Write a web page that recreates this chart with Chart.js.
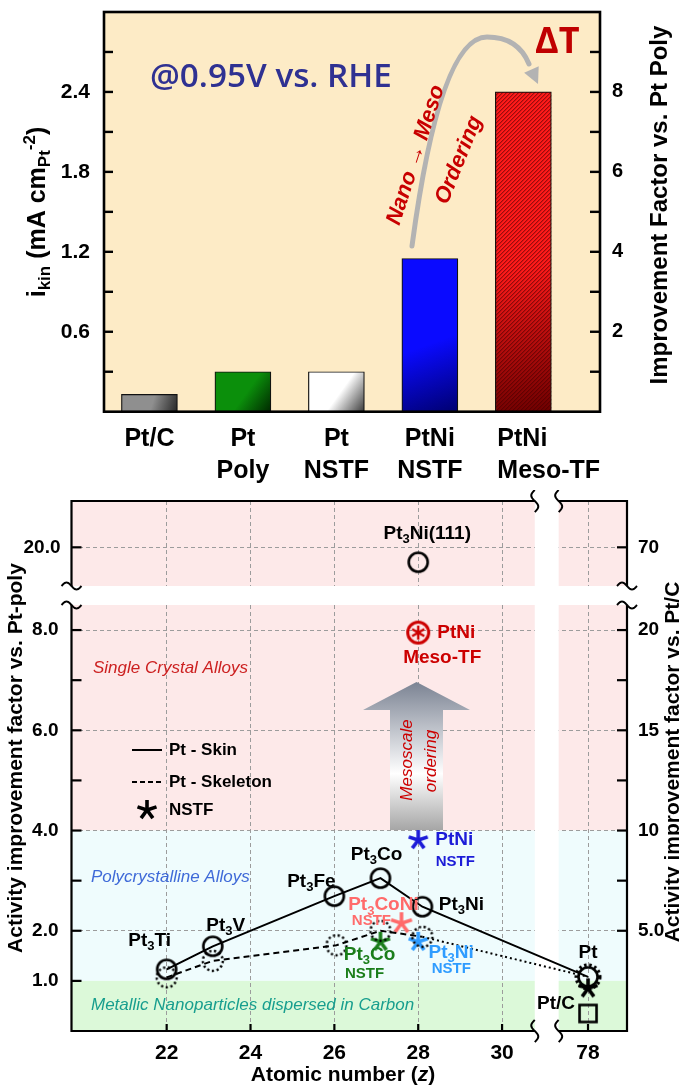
<!DOCTYPE html>
<html lang="en">
<head>
    <meta charset="UTF-8">
    <meta name="viewport" content="width=device-width, initial-scale=1.0">
    <title>ORR activity: Pt alloys and mesostructured PtNi thin films</title>
    <script src="https://cdn.jsdelivr.net/npm/chart.js"></script>
    <style>
        body {
            margin: 0;
            background: #ffffff;
        }

        .page {
            position: relative;
            width: 679px;
            height: 1085px;
            overflow: hidden;
        }

        canvas {
            position: absolute;
            left: 0;
        }

        #barChart { top: 0; }
        #aifChart { top: 490px; }
        #topPanel { top: 490px; z-index: 2; }
    </style>
</head>
<body>
<div class="page">
    <canvas id="barChart" width="679" height="490"></canvas>
    <canvas id="aifChart" width="679" height="595"></canvas>
    <canvas id="topPanel" width="679" height="107"></canvas>
</div>

<script>
    // ---- top panel: specific activity at 0.95 V vs RHE ----
    const catalysts = [['Pt/C'], ['Pt', 'Poly'], ['Pt', 'NSTF'], ['PtNi', 'NSTF'], ['PtNi', 'Meso-TF']];
    const ikin = [0.13, 0.30, 0.30, 1.15, 2.40];              // mA cm_Pt^-2
    const ikinTicks = [0.3, 0.6, 0.9, 1.2, 1.5, 1.8, 2.1, 2.4, 2.7];
    const ikinLabels = [0.6, 1.2, 1.8, 2.4];
    const factorTicks = [1, 2, 3, 4, 5, 6, 7, 8, 9];
    const factorLabels = [2, 4, 6, 8];
    const PT_POLY = 0.3;                                       // i_kin of Pt poly (factor 1)

    // ---- bottom panel: activity improvement factor vs atomic number ----
    const skinNames = ['Pt3Ti', 'Pt3V', 'Pt3Fe', 'Pt3Co', 'Pt3Ni', 'Pt'];
    const skinZ = [22, 23.1, 26, 27.1, 28.1, 78];
    const skinAIF = [1.23, 1.69, 2.69, 3.05, 2.48, 1.08];
    const skelZ = [22, 23.1, 26.05, 27.1, 28.1, 78];
    const skelAIF = [1.07, 1.40, 1.71, 2.00, 1.88, 1.08];
    const nstfNames = ['PtNi', 'Pt3CoNi', 'Pt3Co', 'Pt3Ni', 'Pt'];
    const nstfZ = [28, 27.6, 27.1, 28, 78];
    const nstfAIF = [3.81, 2.15, 1.78, 1.78, 0.85];
    const ptcZ = [78];
    const ptcAIF = [0.35];
    const mesoZ = [28];
    const mesoAIF = [7.95];
    const singleZ = [28];
    const singleAIF = [19.7];
    const zTicks = [22, 24, 26, 28, 30, 78];
    const aifTicks = [1, 2, 3, 4, 5, 6, 7, 8];
    const aifLabels = [1, 2, 4, 6, 8];
    const ptcTicks = [5, 7.5, 10, 12.5, 15, 17.5, 20];
    const ptcLabels = [5, 10, 15, 20];

    // broken z axis: everything past the break sits at one slot
    const Z_BREAK_POS = 32.05;
    const Z_GAP = [30.78, 31.35];
    const zPos = z => (z > 40 ? Z_BREAK_POS : z);

    const FONT = '"Liberation Sans", Arial, Helvetica, sans-serif';
    Chart.defaults.font.family = FONT;
    Chart.defaults.font.weight = 'bold';
    Chart.defaults.color = '#000';

    const nstfColors = ['#1c1cd8', '#ff6b6b', '#1b7e1b', '#2f9cff', '#000000'];

    // axis sizes are pinned so the plot frames land where the figure has them
    const pinWidth = w => s => { s.width = w; s.paddingTop = 0; s.paddingBottom = 0; };
    const pinHeight = h => s => { s.height = h; s.paddingLeft = 0; s.paddingRight = 0; };

    // ---------- small drawing helpers ----------
    function drawText(g, parts, x, y, opt) {
        const size = opt.size;
        const small = Math.round(size * 0.68);
        const font = (s, it) => `${it ? 'italic' : (opt.style || 'normal')} ${opt.weight || 'bold'} ${s}px ${opt.family || FONT}`;
        const isSmall = k => k === 'sub' || k === 'sup';
        g.save();
        g.translate(x, y);
        if (opt.angle) g.rotate(opt.angle);
        g.fillStyle = opt.color || '#000';
        g.textBaseline = 'middle';
        g.textAlign = 'left';
        let w = 0;
        for (const [t, k] of parts) { g.font = font(isSmall(k) ? small : size, k === 'it'); w += g.measureText(t).width; }
        let cx = opt.align === 'left' ? 0 : opt.align === 'right' ? -w : -w / 2;
        for (const [t, k] of parts) {
            g.font = font(isSmall(k) ? small : size, k === 'it');
            const dy = k === 'sub' ? size * 0.3 : k === 'sup' ? -size * 0.32 : 0;
            g.fillText(t, cx, dy);
            cx += g.measureText(t).width;
        }
        g.restore();
    }

    const chem = name => (name.startsWith('Pt3') ? [['Pt'], ['3', 'sub'], [name.slice(3)]] : [[name]]);

    function tildeH(g, x, y) {
        g.beginPath();
        for (let i = 0; i <= 24; i++) {
            const t = i / 24;
            const px = x - 10 + 20 * t, py = y - 3.5 * Math.sin(2 * Math.PI * t);
            i ? g.lineTo(px, py) : g.moveTo(px, py);
        }
        g.stroke();
    }

    function tildeV(g, x, y) {
        g.beginPath();
        for (let i = 0; i <= 24; i++) {
            const t = i / 24;
            const py = y - 11 + 22 * t, px = x - 3.5 * Math.sin(2 * Math.PI * t);
            i ? g.lineTo(px, py) : g.moveTo(px, py);
        }
        g.stroke();
    }

    function marker(size, draw) {
        const c = document.createElement('canvas');
        c.width = c.height = size;
        const g = c.getContext('2d');
        g.translate(size / 2, size / 2);
        draw(g);
        return c;
    }

    const openCircle = marker(26, g => {
        g.lineWidth = 2.6; g.strokeStyle = '#000';
        g.beginPath(); g.arc(0, 0, 9.5, 0, 2 * Math.PI); g.stroke();
    });
    const dottedCircle = marker(28, g => {
        g.lineWidth = 2.4; g.strokeStyle = '#000'; g.setLineDash([2.2, 2.6]);
        g.beginPath(); g.arc(0, 0, 10, 0, 2 * Math.PI); g.stroke();
    });
    const ptSkeleton = marker(32, g => {
        g.lineWidth = 4; g.strokeStyle = '#000'; g.setLineDash([2.4, 2.6]);
        g.beginPath(); g.arc(0, 0, 11.5, 0, 2 * Math.PI); g.stroke();
    });
    const square = marker(24, g => {
        g.lineWidth = 2.6; g.strokeStyle = '#000'; g.strokeRect(-8.5, -8.5, 17, 17);
    });
    function asterisk(color, r) {
        return marker(2 * r + 6, g => {
            g.strokeStyle = color; g.lineWidth = 3.6;
            for (let k = 0; k < 5; k++) {
                const a = -Math.PI / 2 + k * 2 * Math.PI / 5;
                g.beginPath(); g.moveTo(0, 0); g.lineTo(r * Math.cos(a), r * Math.sin(a)); g.stroke();
            }
        });
    }
    const mesoMarker = marker(28, g => {
        g.strokeStyle = '#cc0000'; g.lineWidth = 3;
        g.beginPath(); g.arc(0, 0, 10.5, 0, 2 * Math.PI); g.stroke();
        g.lineWidth = 2.4;
        for (let k = 0; k < 3; k++) {
            const a = Math.PI / 2 + k * Math.PI / 3;
            g.beginPath(); g.moveTo(-7 * Math.cos(a), -7 * Math.sin(a)); g.lineTo(7 * Math.cos(a), 7 * Math.sin(a)); g.stroke();
        }
    });

    // ================= TOP: bar chart =================
    const barShades = [
        ['#8f8f8f', '#262626'],
        ['#0b8f0b', '#002800'],
        ['#ffffff', '#383838'],
        ['#0a0aff', '#000070'],
        ['#ff1a1a', '#6e0000']
    ];

    function barFill(c) {
        const chart = c.chart;
        if (!chart.chartArea || c.dataIndex === undefined) return barShades[c.dataIndex || 0][0];
        const { x, y } = chart.scales;
        const cx = x.getPixelForValue(c.dataIndex + 1);
        const top = y.getPixelForValue(ikin[c.dataIndex]);
        const base = y.getPixelForValue(0);
        const grad = chart.ctx.createLinearGradient(cx - 28, top, cx + 28, base);
        const [c0, c1] = barShades[c.dataIndex];
        grad.addColorStop(0, c0);
        grad.addColorStop(0.55, c0);
        grad.addColorStop(1, c1);
        return grad;
    }

    const barDecor = {
        id: 'barDecor',
        beforeDraw(chart) {
            const { ctx, chartArea: a } = chart;
            ctx.save();
            ctx.fillStyle = '#fdebc6';
            ctx.fillRect(a.left, a.top, a.right - a.left, a.bottom - a.top);
            ctx.restore();
        },
        afterDatasetsDraw(chart) {
            const { ctx: g, chartArea: a, scales } = chart;
            g.save();

            // hatch on the mesostructured thin film bar
            const bar = chart.getDatasetMeta(0).data[4].getProps(['x', 'y', 'base', 'width'], true);
            const left = bar.x - bar.width / 2, h = bar.base - bar.y;
            g.save();
            g.beginPath(); g.rect(left, bar.y, bar.width, h); g.clip();
            g.strokeStyle = 'rgba(70, 0, 0, 0.75)'; g.lineWidth = 1;
            for (let k = -h; k < bar.width + h; k += 4) {
                g.beginPath(); g.moveTo(left + k, bar.base); g.lineTo(left + k + h, bar.y); g.stroke();
            }
            g.restore();

            // frame and inward ticks
            g.strokeStyle = '#000'; g.lineWidth = 2.6;
            g.strokeRect(a.left, a.top, a.right - a.left, a.bottom - a.top);
            g.lineWidth = 2.4;
            for (const t of scales.y.ticks) {
                const py = scales.y.getPixelForValue(t.value);
                g.beginPath(); g.moveTo(a.left, py); g.lineTo(a.left + 9, py); g.stroke();
            }
            for (const t of scales.y2.ticks) {
                const py = scales.y2.getPixelForValue(t.value);
                g.beginPath(); g.moveTo(a.right, py); g.lineTo(a.right - 10, py); g.stroke();
            }

            // category labels
            catalysts.forEach((lines, i) => {
                const cx = scales.x.getPixelForValue(i + 1);
                const leftAlign = i === catalysts.length - 1;
                lines.forEach((txt, j) => {
                    drawText(g, [[txt]], leftAlign ? cx - 26 : cx, 439 + j * 32,
                        { size: 25, align: leftAlign ? 'left' : 'center' });
                });
            });

            // axis titles
            drawText(g, [['i'], ['kin', 'sub'], [' (mA cm'], ['Pt', 'sub'], ['-2', 'sup'], [')']],
                38, 212, { size: 25, angle: -Math.PI / 2 });
            drawText(g, [['Improvement Factor vs. Pt Poly']], 660, 205, { size: 24, angle: -Math.PI / 2 });

            // annotations
            g.font = `600 30px "Open Sans", ${FONT}`;
            const cond = '@0.95V vs. RHE';
            const fs = 30 * 242 / g.measureText(cond).width;
            drawText(g, [[cond]], 150, 78, { size: fs, weight: '600', family: `"Open Sans", ${FONT}`, align: 'left', color: '#2f3192' });
            drawText(g, [['\u0394T']], 535, 43, { size: 36, align: 'left', color: '#c00000', family: `"Open Sans", ${FONT}` });

            g.strokeStyle = '#b3b3b3'; g.lineWidth = 5; g.lineCap = 'round';
            g.beginPath();
            g.moveTo(412, 246);
            g.quadraticCurveTo(440, 37, 487, 37);
            g.quadraticCurveTo(518, 37, 529, 64);
            g.stroke();
            const tip = [538, 84], from = [529, 64];
            const dx = tip[0] - from[0], dy = tip[1] - from[1], L = Math.hypot(dx, dy);
            const ux = dx / L, uy = dy / L;
            g.fillStyle = '#b3b3b3';
            g.beginPath();
            g.moveTo(tip[0], tip[1]);
            g.lineTo(tip[0] - 16 * ux - 8 * uy, tip[1] - 16 * uy + 8 * ux);
            g.lineTo(tip[0] - 16 * ux + 8 * uy, tip[1] - 16 * uy - 8 * ux);
            g.closePath(); g.fill();

            drawText(g, [['Nano \u2192 Meso']], 416, 155, { size: 22, style: 'italic', color: '#c80000', angle: -72 * Math.PI / 180 });
            drawText(g, [['Ordering']], 459, 160, { size: 22, style: 'italic', color: '#c80000', angle: -68 * Math.PI / 180 });
            g.restore();
        }
    };

    new Chart(document.getElementById('barChart'), {
        type: 'bar',
        data: {
            datasets: [{
                data: ikin.map((v, i) => ({ x: i + 1, y: v })),
                backgroundColor: barFill,
                borderColor: '#111',
                borderWidth: 1.2,
                barThickness: 56
            }]
        },
        options: {
            responsive: false,
            animation: false,
            events: [],
            layout: { padding: { top: 12 } },
            plugins: { legend: { display: false }, tooltip: { enabled: false } },
            scales: {
                x: {
                    type: 'linear', min: 0.514, max: 5.82, offset: false,
                    ticks: { display: false },
                    grid: { display: false, drawTicks: false },
                    border: { display: false },
                    afterFit: pinHeight(78.3)
                },
                y: {
                    min: 0, max: 3.0,
                    afterBuildTicks: s => { s.ticks = ikinTicks.map(v => ({ value: v })); },
                    ticks: {
                        font: { size: 21, weight: 'bold' }, padding: 14,
                        callback: v => (ikinLabels.includes(v) ? v.toFixed(1) : '')
                    },
                    grid: { display: false, drawTicks: false },
                    border: { display: false },
                    afterFit: pinWidth(104)
                },
                y2: {
                    position: 'right', min: 0, max: 3.0 / PT_POLY,
                    afterBuildTicks: s => { s.ticks = factorTicks.map(v => ({ value: v })); },
                    ticks: {
                        font: { size: 20, weight: 'bold' }, padding: 12,
                        callback: v => (factorLabels.includes(v) ? String(v) : '')
                    },
                    grid: { display: false, drawTicks: false },
                    border: { display: false },
                    afterFit: pinWidth(79)
                }
            }
        },
        plugins: [barDecor]
    });

    // ================= BOTTOM: improvement factor vs z =================
    const pts = (zs, vs) => zs.map((z, i) => ({ x: zPos(z), y: vs[i] }));

    const zAxis = extra => Object.assign({
        type: 'linear', min: 19.73, max: 32.98,
        afterBuildTicks: s => { s.ticks = zTicks.map(z => ({ value: zPos(z) })); },
        grid: { color: '#9c9c9c', lineWidth: 1, drawTicks: false },
        border: { display: false, dash: [4, 3] }
    }, extra);

    const skinLabelPos = [[-17, -29], [13, -21], [-23, -14], [-4, -23], [39, -2], [0, -24]];
    const nstfLabelPos = [[[36, 0], [37, 22]], [[-18, -18], [-30, -2]], [[-11, 13], [-16, 32]], [[33, 11], [33, 27]], null];

    function gapBand(chart) {
        const { ctx, chartArea: a, scales } = chart;
        const x0 = scales.x.getPixelForValue(Z_GAP[0]), x1 = scales.x.getPixelForValue(Z_GAP[1]);
        ctx.save();
        ctx.fillStyle = '#ffffff';
        ctx.fillRect(x0, a.top - 2, x1 - x0, a.bottom - a.top + 4);
        ctx.restore();
    }

    const aifDecor = {
        id: 'aifDecor',
        beforeDraw(chart) {
            const { ctx, chartArea: a, scales } = chart;
            const bands = [[4, 8.5, '#fde9e9'], [1, 4, '#effcfd'], [0, 1, '#dcf9d9']];
            ctx.save();
            for (const [lo, hi, col] of bands) {
                const y0 = scales.y.getPixelForValue(hi), y1 = scales.y.getPixelForValue(lo);
                ctx.fillStyle = col;
                ctx.fillRect(a.left, y0, a.right - a.left, y1 - y0);
            }
            ctx.restore();
        },
        beforeDatasetsDraw(chart) {
            gapBand(chart);
            const g = chart.ctx;
            g.save();
            // mesoscale ordering arrow
            const grad = g.createLinearGradient(0, 192, 0, 340);
            grad.addColorStop(0, '#7b8393');
            grad.addColorStop(0.62, '#ffffff');
            grad.addColorStop(1, '#a6a6a6');
            g.fillStyle = grad;
            g.beginPath();
            g.moveTo(416.5, 192);
            g.lineTo(470, 220); g.lineTo(443, 220); g.lineTo(443, 340);
            g.lineTo(390, 340); g.lineTo(390, 220); g.lineTo(363, 220);
            g.closePath(); g.fill();
            drawText(g, [['Mesoscale']], 407, 270, { size: 17, weight: 'normal', style: 'italic', color: '#cc0000', angle: -Math.PI / 2 });
            drawText(g, [['ordering']], 431, 271, { size: 17, weight: 'normal', style: 'italic', color: '#cc0000', angle: -Math.PI / 2 });

            // region names
            drawText(g, [['Single Crystal Alloys']], 93, 178, { size: 17, weight: 'normal', style: 'italic', align: 'left', color: '#cc2020' });
            drawText(g, [['Polycrystalline Alloys']], 91, 387, { size: 17, weight: 'normal', style: 'italic', align: 'left', color: '#3f6ad8' });
            drawText(g, [['Metallic Nanoparticles dispersed in Carbon']], 91, 515, { size: 17, weight: 'normal', style: 'italic', align: 'left', color: '#179e8e' });

            // legend
            g.strokeStyle = '#000'; g.lineWidth = 2;
            g.beginPath(); g.moveTo(132, 260); g.lineTo(162, 260); g.stroke();
            g.setLineDash([5, 3]);
            g.beginPath(); g.moveTo(132, 292); g.lineTo(162, 292); g.stroke();
            g.setLineDash([]);
            g.drawImage(asterisk('#000', 10), 147 - 13, 320 - 13);
            drawText(g, [['Pt - Skin']], 169, 260, { size: 17, align: 'left' });
            drawText(g, [['Pt - Skeleton']], 169, 292, { size: 17, align: 'left' });
            drawText(g, [['NSTF']], 169, 320, { size: 17, align: 'left' });
            g.restore();
        },
        afterDatasetsDraw(chart) {
            const { ctx: g, chartArea: a, scales } = chart;
            const P = (z, v) => [scales.x.getPixelForValue(zPos(z)), scales.y.getPixelForValue(v)];
            const gx0 = scales.x.getPixelForValue(Z_GAP[0]), gx1 = scales.x.getPixelForValue(Z_GAP[1]);
            g.save();
            g.strokeStyle = '#000'; g.lineWidth = 2.2;
            g.beginPath();
            g.moveTo(a.left, a.top); g.lineTo(a.left, a.bottom); g.lineTo(gx0, a.bottom);
            g.moveTo(gx1, a.bottom); g.lineTo(a.right, a.bottom); g.lineTo(a.right, a.top);
            g.stroke();
            g.lineWidth = 2;
            tildeH(g, a.left, a.top); tildeH(g, a.right, a.top);
            tildeV(g, gx0, a.bottom); tildeV(g, gx1, a.bottom);
            g.lineWidth = 2.2;
            for (const t of scales.y.ticks) {
                const py = scales.y.getPixelForValue(t.value);
                g.beginPath(); g.moveTo(a.left, py); g.lineTo(a.left + 10, py); g.stroke();
            }
            for (const t of scales.y2.ticks) {
                const py = scales.y2.getPixelForValue(t.value);
                g.beginPath(); g.moveTo(a.right, py); g.lineTo(a.right - 10, py); g.stroke();
            }
            for (const t of scales.x.ticks) {
                const px = scales.x.getPixelForValue(t.value);
                g.beginPath(); g.moveTo(px, a.bottom); g.lineTo(px, a.bottom - 7); g.stroke();
            }

            // point labels
            skinNames.forEach((n, i) => {
                const [px, py] = P(skinZ[i], skinAIF[i]);
                drawText(g, chem(n), px + skinLabelPos[i][0], py + skinLabelPos[i][1], { size: 19 });
            });
            nstfNames.forEach((n, i) => {
                if (!nstfLabelPos[i]) return;
                const [px, py] = P(nstfZ[i], nstfAIF[i]);
                const [[ax, ay], [bx, by]] = nstfLabelPos[i];
                drawText(g, chem(n), px + ax, py + ay, { size: 19, color: nstfColors[i] });
                drawText(g, [['NSTF']], px + bx, py + by, { size: 15, color: nstfColors[i] });
            });
            {
                const [px, py] = P(ptcZ[0], ptcAIF[0]);
                drawText(g, [['Pt/C']], px - 32, py - 10, { size: 19 });
            }
            {
                const [px, py] = P(mesoZ[0], mesoAIF[0]);
                drawText(g, [['PtNi']], px + 38, py, { size: 19, color: '#cc0000' });
                drawText(g, [['Meso-TF']], px + 24, py + 25, { size: 19, color: '#cc0000' });
            }

            // axis titles
            drawText(g, [['Atomic number ('], ['z', 'it'], [')']], 343, 585, { size: 21 });
            drawText(g, [['Activity improvement factor vs. Pt-poly']], 16, 268, { size: 21, angle: -Math.PI / 2 });
            drawText(g, [['Activity improvement factor vs. Pt/C']], 673, 272, { size: 21, angle: -Math.PI / 2 });
            g.restore();
        }
    };

    new Chart(document.getElementById('aifChart'), {
        type: 'scatter',
        data: {
            datasets: [
                {
                    label: 'Pt - Skin', data: pts(skinZ, skinAIF), showLine: true,
                    borderColor: '#000', borderWidth: 2, pointStyle: openCircle, pointRadius: 10
                },
                {
                    label: 'Pt - Skeleton', data: pts(skelZ, skelAIF), showLine: true,
                    borderColor: '#000', borderWidth: 2, borderDash: [6, 4],
                    segment: { borderDash: c => (c.p1DataIndex === skelZ.length - 1 ? [2, 3] : [6, 4]) },
                    pointStyle: skelZ.map((z, i) => (i === skelZ.length - 1 ? ptSkeleton : dottedCircle)),
                    pointRadius: 10
                },
                {
                    label: 'NSTF', data: pts(nstfZ, nstfAIF), showLine: false,
                    pointStyle: nstfZ.map((z, i) => asterisk(nstfColors[i], i === 1 ? 11 : 10)), pointRadius: 10
                },
                { label: 'Pt/C', data: pts(ptcZ, ptcAIF), pointStyle: square, pointRadius: 10 },
                { label: 'PtNi Meso-TF', data: pts(mesoZ, mesoAIF), pointStyle: mesoMarker, pointRadius: 10 }
            ]
        },
        options: {
            responsive: false,
            animation: false,
            events: [],
            layout: { padding: { top: 115 } },
            plugins: { legend: { display: false }, tooltip: { enabled: false } },
            scales: {
                x: zAxis({
                    ticks: { font: { size: 21, weight: 'bold' }, padding: 10, callback: (v, i) => String(zTicks[i]) },
                    afterFit: pinHeight(54)
                }),
                y: {
                    min: 0, max: 8.5,
                    afterBuildTicks: s => { s.ticks = aifTicks.map(v => ({ value: v })); },
                    ticks: {
                        font: { size: 19, weight: 'bold' }, padding: 13,
                        callback: v => (aifLabels.includes(v) ? v.toFixed(1) : '')
                    },
                    grid: { color: c => (c.tick && c.tick.value % 2 === 0 ? '#9c9c9c' : 'rgba(0,0,0,0)'), lineWidth: 1, drawTicks: false },
                    border: { display: false, dash: [4, 3] },
                    afterFit: pinWidth(71.5)
                },
                y2: {
                    position: 'right', min: 0, max: 8.5 * 2.5,
                    afterBuildTicks: s => { s.ticks = ptcTicks.map(v => ({ value: v })); },
                    ticks: {
                        font: { size: 19, weight: 'bold' }, padding: 11,
                        callback: v => (ptcLabels.includes(v) ? (v === 5 ? '5.0' : String(v)) : '')
                    },
                    grid: { display: false, drawTicks: false },
                    border: { display: false },
                    afterFit: pinWidth(52)
                }
            }
        },
        plugins: [aifDecor]
    });

    // upper strip of the broken axis (single crystal)
    const stripDecor = {
        id: 'stripDecor',
        beforeDraw(chart) {
            const { ctx, chartArea: a } = chart;
            ctx.save();
            ctx.fillStyle = '#fde9e9';
            ctx.fillRect(a.left, a.top, a.right - a.left, a.bottom - a.top);
            ctx.restore();
        },
        beforeDatasetsDraw: gapBand,
        afterDatasetsDraw(chart) {
            const { ctx: g, chartArea: a, scales } = chart;
            const gx0 = scales.x.getPixelForValue(Z_GAP[0]), gx1 = scales.x.getPixelForValue(Z_GAP[1]);
            g.save();
            g.strokeStyle = '#000'; g.lineWidth = 2.2;
            g.beginPath();
            g.moveTo(a.left, a.bottom); g.lineTo(a.left, a.top); g.lineTo(gx0, a.top);
            g.moveTo(gx1, a.top); g.lineTo(a.right, a.top); g.lineTo(a.right, a.bottom);
            g.stroke();
            g.lineWidth = 2;
            tildeH(g, a.left, a.bottom); tildeH(g, a.right, a.bottom);
            tildeV(g, gx0, a.top); tildeV(g, gx1, a.top);
            g.lineWidth = 2.2;
            for (const t of scales.y.ticks) {
                const py = scales.y.getPixelForValue(t.value);
                g.beginPath(); g.moveTo(a.left, py); g.lineTo(a.left + 10, py); g.stroke();
            }
            for (const t of scales.y2.ticks) {
                const py = scales.y2.getPixelForValue(t.value);
                g.beginPath(); g.moveTo(a.right, py); g.lineTo(a.right - 10, py); g.stroke();
            }
            const px = scales.x.getPixelForValue(zPos(singleZ[0]));
            const py = scales.y.getPixelForValue(singleAIF[0]);
            drawText(g, [['Pt'], ['3', 'sub'], ['Ni(111)']], px + 9, py - 28, { size: 19 });
            g.restore();
        }
    };

    new Chart(document.getElementById('topPanel'), {
        type: 'scatter',
        data: {
            datasets: [{
                label: 'Pt3Ni(111)', data: pts(singleZ, singleAIF),
                pointStyle: openCircle, pointRadius: 10
            }]
        },
        options: {
            responsive: false,
            animation: false,
            events: [],
            layout: { padding: { top: 9.3, bottom: 0 } },
            plugins: { legend: { display: false }, tooltip: { enabled: false } },
            scales: {
                x: zAxis({ ticks: { display: false }, afterFit: pinHeight(0) }),
                y: {
                    min: 19.22, max: 20.934,
                    afterBuildTicks: s => { s.ticks = [{ value: 20 }]; },
                    ticks: { font: { size: 19, weight: 'bold' }, padding: 11, callback: v => v.toFixed(1) },
                    grid: { color: '#9c9c9c', lineWidth: 1, drawTicks: false },
                    border: { display: false, dash: [4, 3] },
                    afterFit: pinWidth(71.5)
                },
                y2: {
                    position: 'right', min: 19.22 * 3.5, max: 20.934 * 3.5,
                    afterBuildTicks: s => { s.ticks = [{ value: 70 }]; },
                    ticks: { font: { size: 19, weight: 'bold' }, padding: 11, callback: v => String(Math.round(v)) },
                    grid: { display: false, drawTicks: false },
                    border: { display: false },
                    afterFit: pinWidth(52)
                }
            }
        },
        plugins: [stripDecor]
    });
</script>
</body>
</html>
